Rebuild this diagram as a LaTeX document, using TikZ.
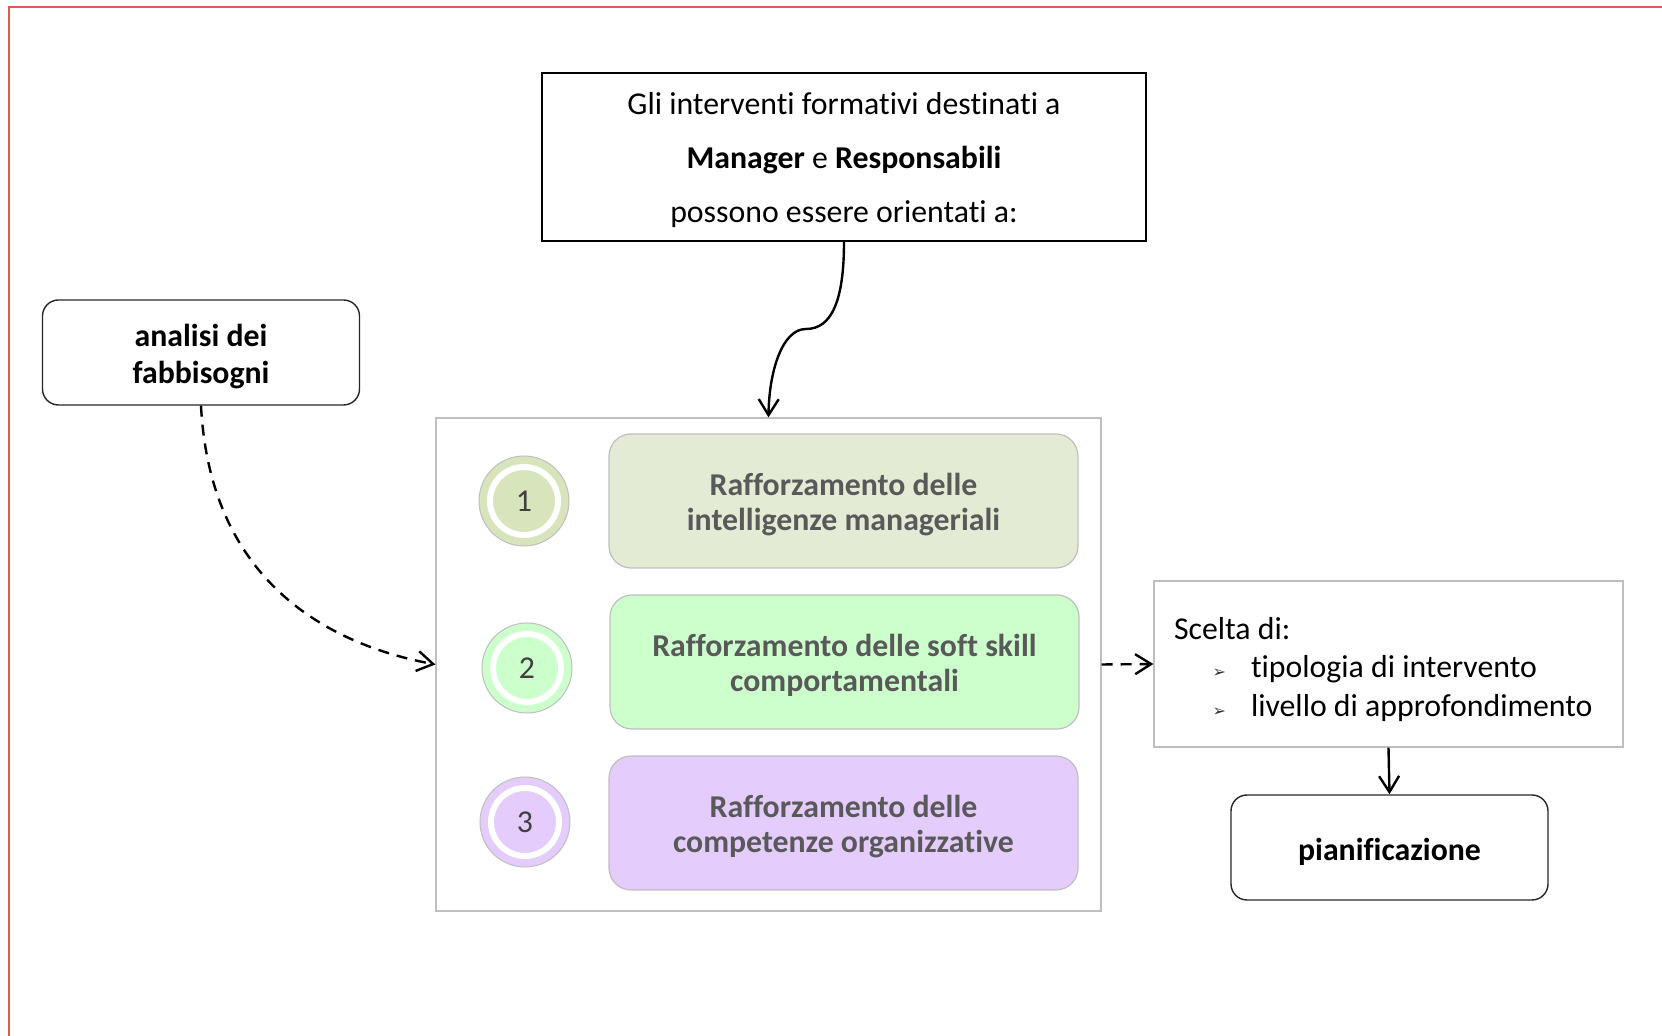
\documentclass[tikz,border=0pt]{standalone}
\usepackage{fontspec}
\setmainfont{Carlito}[Ligatures=NoCommon]
\newfontfamily\dingfont{DejaVu Sans}
\usetikzlibrary{arrows.meta}
\definecolor{formRed}{HTML}{E05A5A}
\definecolor{formLine}{HTML}{BFBFBF}
\definecolor{formText}{HTML}{595959}
\definecolor{formNum}{HTML}{404040}
\definecolor{formSage}{HTML}{E3EBD4}
\definecolor{formSageDeep}{HTML}{D8E4BC}
\definecolor{formMint}{HTML}{CCFFCC}
\definecolor{formLilac}{HTML}{E4CCFC}
\newcommand\topgap[1]{\rule{0pt}{\dimexpr\fontcharht\font`\l+#1\relax}}
\newcommand\sceltaitem[1]{\makebox[38.5pt][r]{{\dingfont\fontsize{8}{8}\selectfont\color{black!80}➢}\hspace{12.5pt}}#1}

\begin{document}
\begin{tikzpicture}[x=0.5pt,y=-0.5pt,font=\fontsize{15.9}{19}\selectfont,
  frame/.style={draw=formLine,line width=0.6pt},
  itembox/.style={draw=formLine,line width=0.6pt,rounded corners=11pt,
    minimum width=234.5pt,minimum height=67pt,align=center,text=formText,
    font=\fontsize{15.9}{17.5}\selectfont\bfseries},
  numdisc/.style={circle,draw=formLine,line width=0.5pt,minimum size=45pt,
    inner sep=0pt,text=formNum,
    path picture={\draw[white,line width=3pt]
      (path picture bounding box.center) circle[radius=17pt];}},
  roundbox/.style={draw=black!85,line width=0.7pt,rounded corners=8pt,
    minimum width=158.5pt,minimum height=52.5pt,align=center,
    font=\fontsize{15.9}{18.5}\selectfont\bfseries},
  link/.style={line width=1.2pt,-{Straight Barb[length=8pt,width=10pt]}},
  dashlink/.style={link,dash pattern=on 5.5pt off 4pt}]
  \useasboundingbox (0,0) rectangle (1662,1036);
  \draw[formRed,line width=1pt] (8.5,1036) -- (8.5,7.5) -- (1662,7.5);

  \node[draw,line width=0.9pt,minimum width=302pt,minimum height=84pt,align=center,
        font=\fontsize{15.9}{27}\selectfont] (intro) at (844,157)
    {\topgap{3.2pt}Gli interventi formativi destinati a\\
     \textbf{Manager} e \textbf{Responsabili}\\
     possono essere orientati a:};
  \node[roundbox] (analisi) at (201,352.5) {\topgap{4.2pt}analisi dei\\fabbisogni};

  \node[frame,minimum width=332.5pt,minimum height=246.5pt] (panel) at (768.5,664.5) {};
  \node[itembox,fill=formSage] (raff1) at (843.5,501)
    {\topgap{3.2pt}Rafforzamento delle\\intelligenze manageriali};
  \node[itembox,fill=formMint] (raff2) at (844.5,662)
    {\topgap{3.2pt}Rafforzamento delle soft skill\\comportamentali};
  \node[itembox,fill=formLilac] (raff3) at (843.5,823)
    {\topgap{3.2pt}Rafforzamento delle\\competenze organizzative};
  \node[numdisc,fill=formSageDeep] (num1) at (524,501) {1};
  \node[numdisc,fill=formMint] (num2) at (527,668) {2};
  \node[numdisc,fill=formLilac] (num3) at (525,822) {3};

  \node[frame,minimum width=234.5pt,minimum height=83pt,text width=214.5pt,
        inner xsep=10pt,align=flush left,font=\fontsize{15.9}{19.3}\selectfont]
    (scelta) at (1388.5,664)
    {\topgap{5.3pt}Scelta di:\\\sceltaitem{tipologia di intervento}\\\sceltaitem{livello di approfondimento}};
  \node[roundbox] (piano) at (1389.5,847.5) {\topgap{4.2pt}pianificazione};

  \coordinate (bend) at (806,329);
  \draw[link] (intro.south) .. controls (844,300) and (832,329) .. (bend)
    .. controls (782,329) and (769,372) .. (panel.north);
  \draw[dashlink] (analisi.south) .. controls (210,580) and (326,644) .. (panel.west);
  \draw[dashlink] (panel.east) -- (scelta.west);
  \draw[link] (scelta.south) -- (piano.north);
\end{tikzpicture}
\end{document}
